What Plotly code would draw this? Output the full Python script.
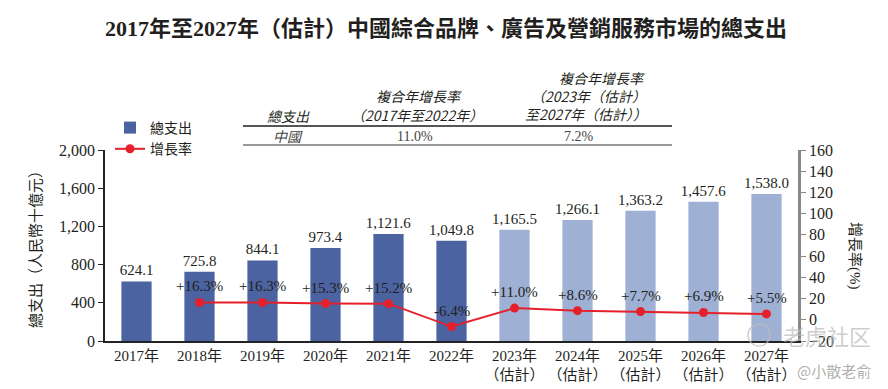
import plotly.graph_objects as go

categories = ["2017年", "2018年", "2019年", "2020年", "2021年", "2022年",
              "2023年<br>（估計）", "2024年<br>（估計）", "2025年<br>（估計）",
              "2026年<br>（估計）", "2027年<br>（估計）"]
spending = [624.1, 725.8, 844.1, 973.4, 1121.6, 1049.8, 1165.5, 1266.1, 1363.2, 1457.6, 1538.0]
spending_labels = ["624.1", "725.8", "844.1", "973.4", "1,121.6", "1,049.8",
                   "1,165.5", "1,266.1", "1,363.2", "1,457.6", "1,538.0"]
growth_cats = categories[1:]
growth = [16.3, 16.3, 15.3, 15.2, -6.4, 11.0, 8.6, 7.7, 6.9, 5.5]
growth_labels = ["+16.3%", "+16.3%", "+15.3%", "+15.2%", "-6.4%", "+11.0%",
                 "+8.6%", "+7.7%", "+6.9%", "+5.5%"]

DARK = "#4B63A0"
LIGHT = "#9EB0D4"
RED = "#E5202A"
FONT = "Liberation Serif, Noto Sans CJK TC, serif"
SANS = "Noto Sans CJK TC, sans-serif"
TXT = "#231F20"

bar_colors = [DARK] * 6 + [LIGHT] * 5

# page body has an 8px margin; target plot area in screenshot pixels
OFF = 8
PX0, PX1, PY0, PY1 = 105, 798, 150, 341
FIG_W, FIG_H = 888 - OFF, 389 - OFF
L, T = PX0 - OFF, PY0 - OFF
R, B = 888 - PX1, 389 - PY1
W, H = PX1 - PX0, PY1 - PY0


def dx(px):
    return (px - PX0) / W


def dy(py):
    return (PY1 - py) / H


fig = go.Figure()
fig.add_trace(go.Bar(
    x=categories, y=spending, name="總支出",
    marker=dict(color=bar_colors, line=dict(width=0)),
    text=spending_labels, textposition="outside", cliponaxis=False,
    constraintext="none",
    textfont=dict(family=FONT, size=15, color=TXT),
    yaxis="y",
))
fig.add_trace(go.Scatter(
    x=growth_cats, y=growth, name="增長率", mode="lines+markers",
    line=dict(color=RED, width=2), marker=dict(color=RED, size=9),
    yaxis="y2",
))

annotations = []
for c, v, t in zip(growth_cats, growth, growth_labels):
    annotations.append(dict(x=c, y=v, xref="x", yref="y2", text=t, showarrow=False,
                            xanchor="center", yanchor="middle",
                            yshift=16, font=dict(family=FONT, size=15, color=TXT)))


def pix_text(px, py, text, size, color=TXT, family=FONT, angle=0, xanchor="center"):
    annotations.append(dict(x=dx(px), y=dy(py), xref="paper", yref="paper", text=text,
                            showarrow=False, xanchor=xanchor, yanchor="middle",
                            textangle=angle, font=dict(family=family, size=size, color=color)))


# CAGR table
pix_text(288, 116, "<i>總支出</i>", 14, family=SANS)
pix_text(419, 96, "<i>複合年增長率</i>", 14, family=SANS)
pix_text(417, 115, "<i>（2017年至2022年）</i>", 14, family=SANS)
pix_text(647, 78, "<i>複合年增長率</i>", 14, family=SANS, xanchor="right")
pix_text(648, 96, "<i>（2023年（估計）</i>", 14, family=SANS, xanchor="right")
pix_text(649, 114, "<i>至2027年（估計））</i>", 14, family=SANS, xanchor="right")
pix_text(288, 136, "<i>中國</i>", 14, family=SANS, color="#444444")
pix_text(415, 136, "11.0%", 14, color="#444444")
pix_text(579, 136, "7.2%", 14, color="#444444")

# right axis title
pix_text(855, 256, "增長率(%)", 15, angle=90)
# title
pix_text(446, 28, "<b>2017年至2027年（估計）中國綜合品牌、廣告及營銷服務市場的總支出</b>", 22)
# watermark
pix_text(827, 335, "老虎社区", 22, color="rgba(185,185,185,0.7)", family="Noto Sans CJK SC")
pix_text(834, 370, "@小散老俞", 15, color="rgba(165,165,165,0.9)", family="Noto Sans CJK SC")

shapes = [
    dict(type="line", xref="paper", yref="paper", x0=dx(243), x1=dx(672),
         y0=dy(126), y1=dy(126), line=dict(color="#555555", width=2)),
    dict(type="line", xref="paper", yref="paper", x0=dx(243), x1=dx(672),
         y0=dy(145), y1=dy(145), line=dict(color="#777777", width=1.5)),
    dict(type="circle", xref="paper", yref="paper", x0=dx(748), x1=dx(770),
         y0=dy(346), y1=dy(324), line=dict(color="rgba(190,190,190,0.7)", width=1.5)),
]

fig.update_layout(
    width=FIG_W, height=FIG_H,
    margin=dict(l=L, r=R, t=T, b=B, autoexpand=False),
    paper_bgcolor="white", plot_bgcolor="white",
    font=dict(family=FONT, color=TXT),
    bargap=0.52,
    showlegend=True,
    legend=dict(x=dx(110), y=dy(112), xanchor="left", yanchor="top",
                font=dict(family=SANS, size=14, color=TXT), tracegroupgap=0,
                itemwidth=30, bgcolor="rgba(0,0,0,0)"),
    xaxis=dict(type="category", range=[-0.5, 10.5], showline=True, linecolor="#222222",
               linewidth=1.5, ticks="", tickfont=dict(family=FONT, size=15, color=TXT),
               showgrid=False),
    yaxis=dict(range=[0, 2000], tickvals=[0, 400, 800, 1200, 1600, 2000], tickformat=",",
               showline=True, linecolor="#222222", linewidth=1.5, ticks="outside", ticklen=5,
               tickcolor="#222222", showgrid=False, zeroline=False,
               tickfont=dict(family=FONT, size=16, color=TXT),
               title=dict(text="總支出（人民幣十億元）", standoff=14,
                          font=dict(family=FONT, size=15, color=TXT))),
    yaxis2=dict(range=[-20, 160], tickvals=list(range(-20, 161, 20)), overlaying="y",
                side="right", showline=True, linecolor="#888888", linewidth=2.5,
                ticks="outside", ticklen=5, tickcolor="#888888", showgrid=False,
                zeroline=False, tickfont=dict(family=FONT, size=16, color=TXT)),
    annotations=annotations, shapes=shapes,
)

fig.write_html("out.html")
